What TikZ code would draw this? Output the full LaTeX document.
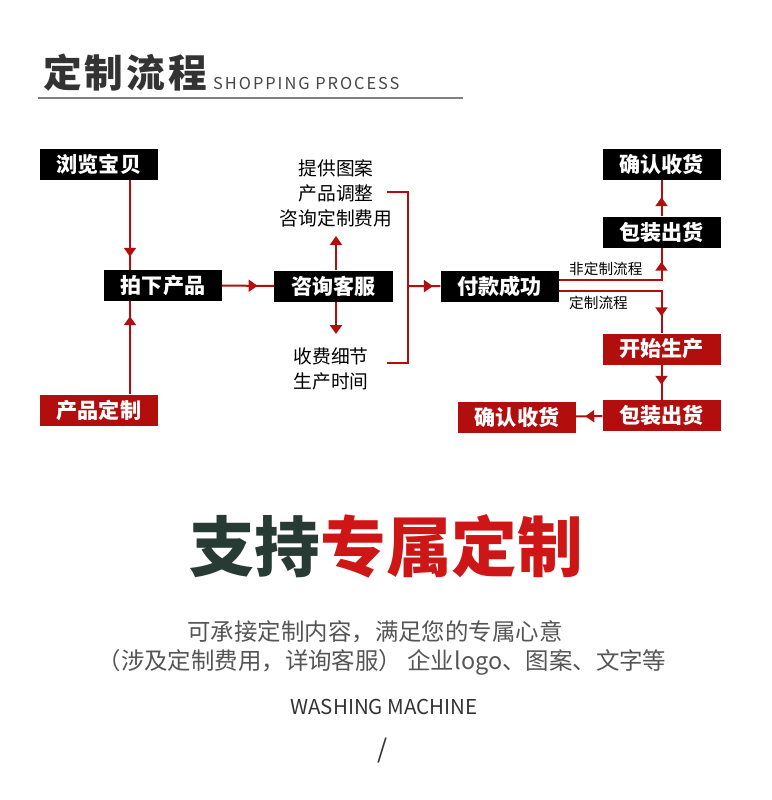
\documentclass[tikz,border=0pt]{standalone}
\usepackage{fontspec}
\usetikzlibrary{arrows.meta,decorations.markings,positioning}
\newfontfamily\cjk{Noto Sans CJK SC}
\newfontfamily\cjkwide[LetterSpace=12]{Noto Sans CJK SC}
\newfontfamily\cjkhead[LetterSpace=8]{Noto Sans CJK SC}
\definecolor{R}{RGB}{178, 14, 14}
\definecolor{RT}{RGB}{206, 22, 22}
\definecolor{GT}{RGB}{40, 58, 52}
\definecolor{D}{RGB}{51, 51, 51}
\definecolor{T}{RGB}{85, 85, 85}

\tikzset{
  blackbox/.style={fill=black, text=white, minimum width=3.54cm, minimum height=0.93cm,
    inner sep=0pt, font=\cjk\bfseries\fontsize{18}{18}\selectfont},
  redbox/.style={blackbox, fill=R},
  flow/.style={color=R, line width=0.06cm},
  tip/.style={-{Triangle[width=0.36cm,length=0.27cm]}},
  midtip/.style={postaction={decorate}, decoration={markings,
    mark=at position #1 with {\arrow{Triangle[width=0.36cm,length=0.27cm]}}}},
  note/.style={text=black, inner sep=0pt, font=\cjk\fontsize{16}{16}\selectfont},
  small/.style={text=black, inner sep=0pt, font=\cjk\fontsize{12.5}{12.5}\selectfont}
}

\begin{document}
\begin{tikzpicture}[x=0.03cm, y=-0.03cm]
  \fill[white] (0,0) rectangle (771,800);
  \useasboundingbox (0,0) rectangle (771,800);

  % header
  \node[text=D, inner sep=0pt, anchor=west, font=\cjkhead\bfseries\fontsize{33}{33}\selectfont] (head) at (43,73) {定制流程};
  \node[text=D!90, inner sep=0pt, anchor=base west, font=\cjkwide\fontsize{14}{14}\selectfont] (headen) at (213,89) {SHOPPING PROCESS};
  \draw[color=gray, line width=0.06cm] (38,98) -- (463,98);

  % left part
  \node[blackbox] (browse) at (99,164.5) {浏览宝贝};
  \node[blackbox] (order) at (163,285.5) {拍下产品};
  \node[redbox] (custom) at (99,410) {产品定制};
  \coordinate (trunk) at (130,0);
  \draw[flow, midtip=-0.39cm] (browse.south -| trunk) -- (order.north -| trunk);
  \draw[flow, midtip=-0.45cm] (custom.north -| trunk) -- (order.south -| trunk);

  % service
  \node[blackbox] (service) at (333.5,286) {咨询客服};
  \draw[flow, midtip=-0.5cm] (order) -- (service);
  \node[note] (plan1) at (336,168) {提供图案};
  \node[note] (plan2) at (336,193) {产品调整};
  \node[note] (plan3) at (336,218) {咨询定制费用};
  \node[note] (fee1) at (331,356) {收费细节};
  \node[note] (fee2) at (331,381) {生产时间};
  \coordinate (ask) at (336,236);
  \coordinate (tell) at (336,334);
  \draw[flow, tip] (service.north -| ask) -- (ask);
  \draw[flow, tip] (service.south -| tell) -- (tell);

  % bracket
  \coordinate (bt) at (387,192);
  \coordinate (bb) at (387,363);
  \coordinate (join) at (408,286);
  \draw[flow] (bt) -| (join) |- (bb);

  % payment
  \node[blackbox] (pay) at (499.5,286.5) {付款成功};
  \draw[flow, midtip=-0.22cm] (join) -- (pay);

  % right part
  \node[blackbox] (confirmA) at (661.5,164.5) {确认收货};
  \node[blackbox] (packA) at (661.5,232) {包装出货};
  \node[redbox] (produce) at (661.5,349) {开始生产};
  \node[redbox] (packB) at (661.5,415.5) {包装出货};
  \node[redbox] (confirmB) at (517,417) {确认收货};

  \draw[flow, midtip=-0.42cm] ([yshift=0.2cm]pay.east) -| (packA.south);
  \draw[flow, midtip=-0.51cm] ([yshift=-0.14cm]pay.east) -| (produce.north);
  \draw[flow, midtip=-0.51cm] (packA) -- (confirmA);
  \draw[flow, midtip=-0.45cm] (produce) -- (packB);
  \draw[flow, midtip=-0.27cm] (packB) -- (confirmB);
  \node[small, anchor=west] (plain) at (569,269) {非定制流程};
  \node[small, anchor=west] (tailor) at (569,303) {定制流程};

  % slogan
  \node[inner sep=0pt, font=\cjk\bfseries\fontsize{56}{56}\selectfont] (slogan) at (386,546)
    {\textcolor{GT}{支持}\textcolor{RT}{专属定制}};
  \node[text=T, inner sep=0pt, font=\cjk\fontsize{20}{20}\selectfont] (line1) at (375,632)
    {可承接定制内容，满足您的专属心意};
  \node[text=T, inner sep=0pt, font=\cjk\fontsize{20}{20}\selectfont] (line2) at (382,662)
    {（涉及定制费用，详询客服） 企业logo、图案、文字等};
  \node[text=D, inner sep=0pt, font=\cjk\fontsize{17.5}{17.5}\selectfont] (machine) at (384,707) {WASHING MACHINE};
  \node[text=D, inner sep=0pt, font=\cjk\fontsize{22}{22}\selectfont] (slash) at (383,751) {/};
\end{tikzpicture}
\end{document}
